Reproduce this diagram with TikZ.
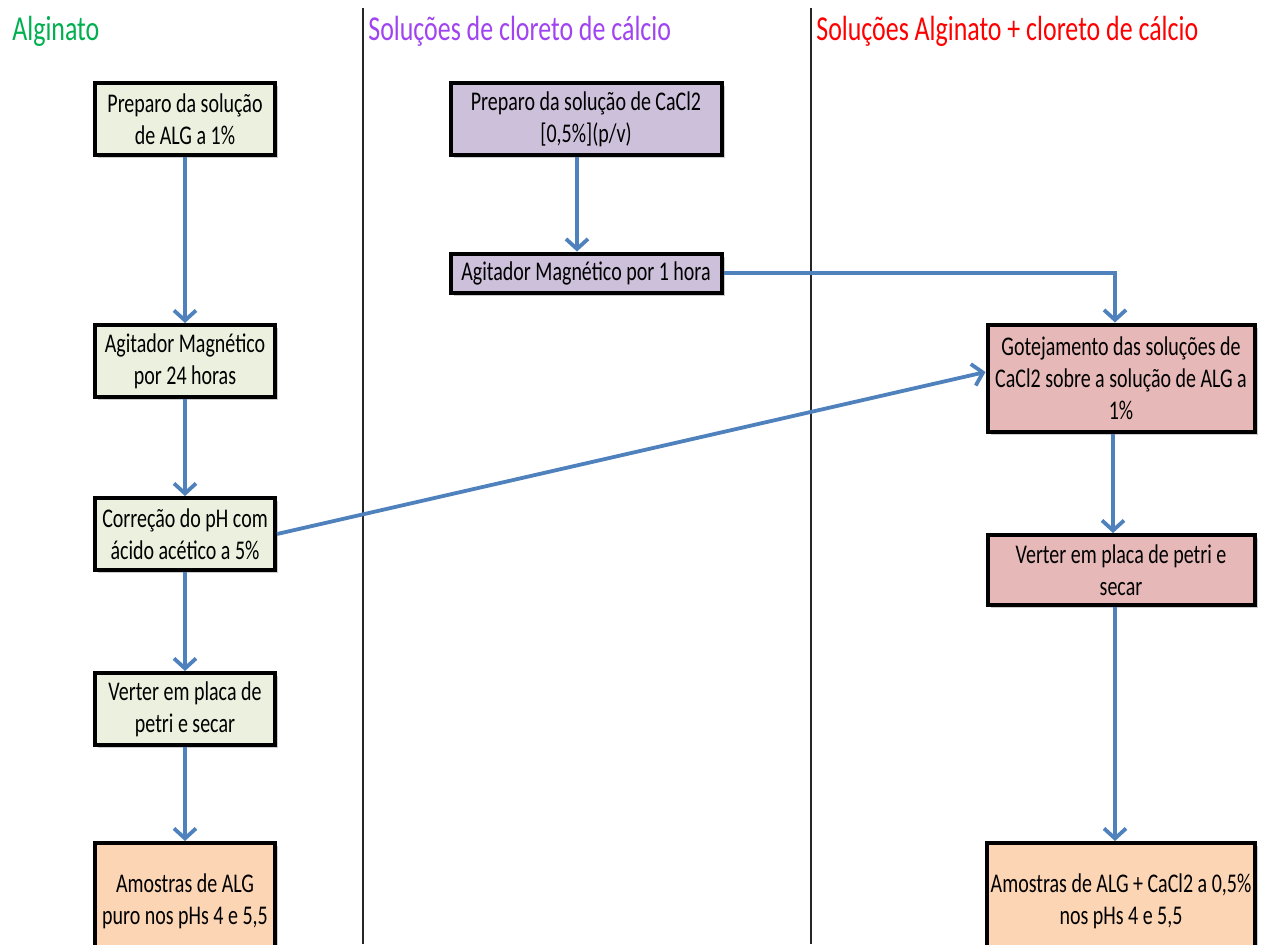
\documentclass[tikz,border=0pt]{standalone}
\usepackage{fontspec}
\setmainfont{Carlito}[FakeStretch=0.74]
\usetikzlibrary{arrows.meta,shadows}

\definecolor{algfill}{HTML}{EBF1DE}
\definecolor{cafill}{HTML}{CCC0DA}
\definecolor{mixfill}{HTML}{E6B9B8}
\definecolor{samplefill}{HTML}{FCD5B5}
\definecolor{flowblue}{HTML}{4F81BD}
\definecolor{hdgreen}{HTML}{00B050}
\definecolor{hdpurple}{HTML}{A043F0}
\definecolor{hdred}{HTML}{FF0000}

\newcommand{\hdrfont}{\fontsize{17.5}{21}\selectfont}
\newcommand{\boxfont}{\fontsize{13.5}{16}\selectfont}

\begin{document}
\begin{tikzpicture}[x=0.5pt,y=-0.5pt,
    algbox/.style={fill=algfill, minimum width=90pt, minimum height=36pt},
    cabox/.style={fill=cafill, minimum width=135.5pt},
    mixbox/.style={fill=mixfill, minimum width=133.5pt},
    samplebox/.style={fill=samplefill, minimum height=58pt}]

      \useasboundingbox (0,0) rectangle (1264,944);
      \clip (0,0) rectangle (1264,944);

      % column headers
      \begin{scope}[every node/.style={anchor=base west, inner sep=0pt, font=\hdrfont}]
        \node[text=hdgreen]  (h1) at (12,40)  {Alginato};
        \node[text=hdpurple] (h2) at (368,40) {Soluções de cloreto de cálcio};
        \node[text=hdred]    (h3) at (816,40) {Soluções Alginato + cloreto de cálcio};
      \end{scope}

      % column separators
      \draw[line width=0.8pt, black!85] (363,8) -- (363,944);
      \draw[line width=0.8pt, black!85] (811,8) -- (811,944);

      \begin{scope}[every node/.style={draw, line width=2pt, align=center, inner sep=2pt,
          font=\boxfont,
          drop shadow={shadow xshift=1.5pt, shadow yshift=-1.5pt, fill=black, opacity=0.2}}]
        \node[algbox] (a1) at (185,119) {Preparo da solução\\de ALG a 1\%};
        \node[algbox] (a2) at (185,361) {Agitador Magnético\\por 24 horas};
        \node[algbox] (a3) at (185,534) {Correção do pH com\\ácido acético a 5\%};
        \node[algbox] (a4) at (185,709) {Verter em placa de\\petri e secar};
        \node[algbox, samplebox] (a5) at (185,901) {Amostras de ALG\\puro nos pHs 4 e 5,5};

        \node[cabox, minimum height=36pt]   (b1) at (586,119) {Preparo da solução de CaCl2\\{[0,5\%](p/v)}};
        \node[cabox, minimum height=19.5pt] (b2) at (586,273) {Agitador Magnético por 1 hora};

        \node[mixbox, minimum height=53.5pt] (c1) at (1121,378) {Gotejamento das soluções de\\CaCl2 sobre a solução de ALG a\\1\%};
        \node[mixbox, minimum height=35pt]   (c2) at (1121,570) {Verter em placa de petri e\\secar};
        \node[mixbox, samplebox]             (c3) at (1121,901) {Amostras de ALG + CaCl2 a 0,5\%\\nos pHs 4 e 5,5};
      \end{scope}

      \begin{scope}[every edge/.style={draw, flowblue, line width=1.9pt,
          -{Straight Barb[length=5pt,width=11pt]}}]
        \path (a1) edge (a2);
        \path (a2) edge (a3);
        \path (a3) edge (a4);
        \path (a4) edge (a5);
        \path ([xshift=-4.5pt]b1.south) edge ([xshift=-4.5pt]b2.north);
        \path (b2.east) edge[to path={-| (\tikztotarget)}] ([xshift=-3pt]c1.north);
        \path (a3.east) edge ([yshift=3pt]c1.west);
        \path ([xshift=-4pt]c1.south) edge ([xshift=-4pt]c2.north);
        \path ([xshift=-3pt]c2.south) edge ([xshift=-3pt]c3.north);
      \end{scope}

    \end{tikzpicture}
\end{document}
